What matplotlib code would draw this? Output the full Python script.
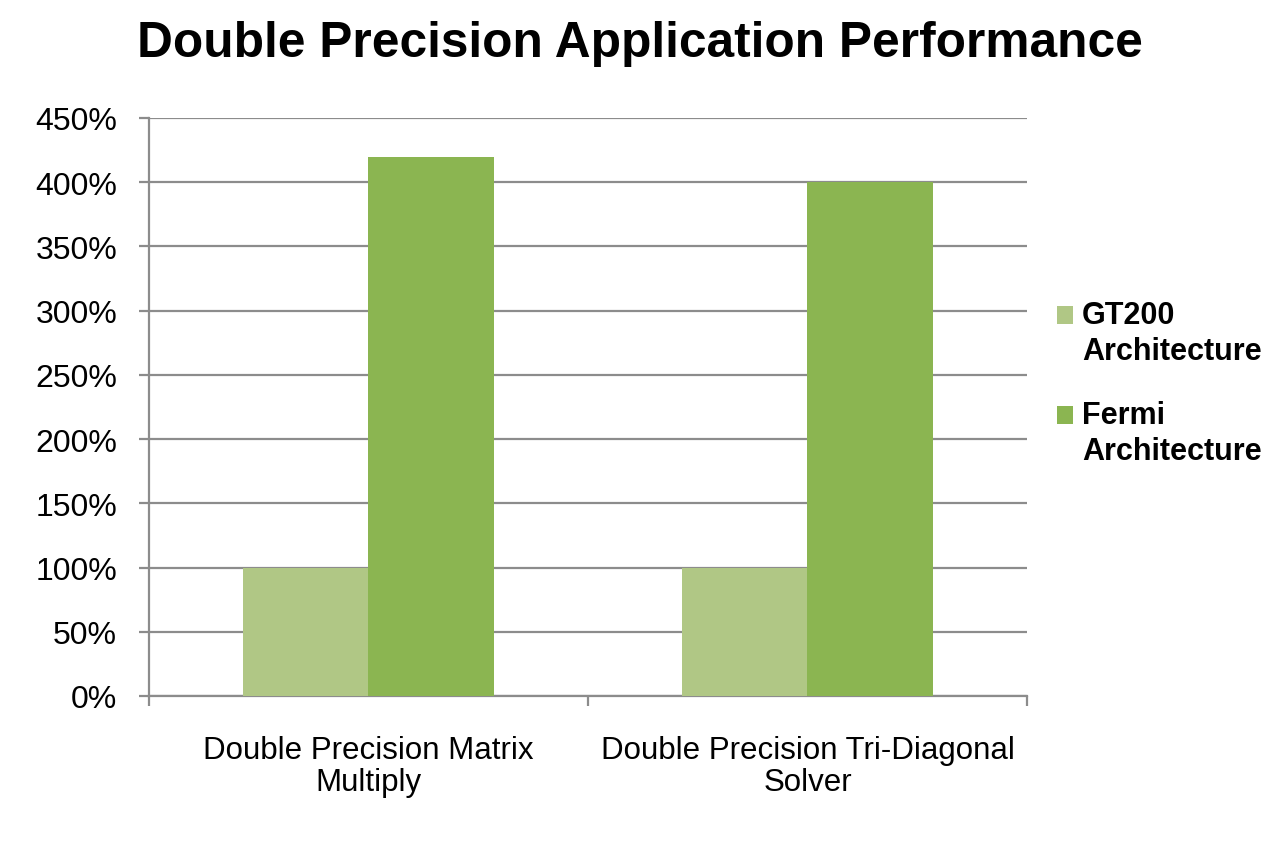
import matplotlib
matplotlib.use("Agg")
import matplotlib.pyplot as plt
from matplotlib.legend_handler import HandlerPatch
from matplotlib.patches import Rectangle
import numpy as np

plt.rcParams['font.family'] = ['Liberation Sans', 'DejaVu Sans']

categories = ["Double Precision Matrix\nMultiply", "Double Precision Tri-Diagonal\nSolver"]
series_names = ["GT200\nArchitecture", "Fermi\nArchitecture"]
gt200 = [100, 100]
fermi = [420, 400]
yticks = [0, 50, 100, 150, 200, 250, 300, 350, 400, 450]
colors = ["#b0c785", "#8bb551"]
grid_color = "#8c8c8c"


class TopSquareHandler(HandlerPatch):
    def create_artists(self, legend, orig_handle, xdescent, ydescent,
                       width, height, fontsize, trans):
        r = Rectangle((-xdescent, -ydescent + 0.62 * fontsize), width, height,
                      facecolor=orig_handle.get_facecolor(), edgecolor='none',
                      transform=trans)
        return [r]


fig = plt.figure(figsize=(12.8, 8.53), dpi=100)
ax = fig.add_axes([0.1164, 0.1829, 0.6859, 0.6776])

x = np.arange(len(categories))
w = 0.286
b1 = ax.bar(x - w/2, gt200, width=w, color=colors[0], label=series_names[0], zorder=3)
b2 = ax.bar(x + w/2, fermi, width=w, color=colors[1], label=series_names[1], zorder=3)

ax.set_xlim(-0.5, len(categories) - 0.5)
ax.set_ylim(0, 450)
ax.set_yticks(yticks)
ax.set_yticklabels([f"{v}%" for v in yticks], fontsize=23)
ax.yaxis.grid(True, color=grid_color, linewidth=1.6, zorder=0)
ax.set_axisbelow(True)

ax.set_xticks(x)
ax.set_xticklabels(categories, fontsize=22.5, linespacing=1.1)
ax.set_xticks(np.arange(-0.5, len(categories)), minor=True)
ax.tick_params(axis='x', which='major', length=0, pad=28)
ax.tick_params(axis='x', which='minor', length=7, width=1.6, color=grid_color)
ax.tick_params(axis='y', length=7, width=1.6, color=grid_color, pad=16)

for s in ['top', 'right']:
    ax.spines[s].set_visible(False)
for s in ['left', 'bottom']:
    ax.spines[s].set_color(grid_color)
    ax.spines[s].set_linewidth(1.6)

leg = fig.legend(handles=[b1[0], b2[0]], labels=series_names, loc='upper left',
                 bbox_to_anchor=(0.8258, 0.647), frameon=False, borderpad=0,
                 borderaxespad=0,
                 prop={'size': 22, 'weight': 'bold'}, handlelength=0.52,
                 handleheight=0.52, handletextpad=0.3, labelspacing=1.1,
                 handler_map={Rectangle: TopSquareHandler()})
for t in leg.get_texts():
    t.set_linespacing(1.27)

fig.text(0.5, 1 - 44/853, "Double Precision Application Performance",
         ha='center', va='center', fontsize=35.7, fontweight='bold')

fig.savefig("out.png", dpi=100)
